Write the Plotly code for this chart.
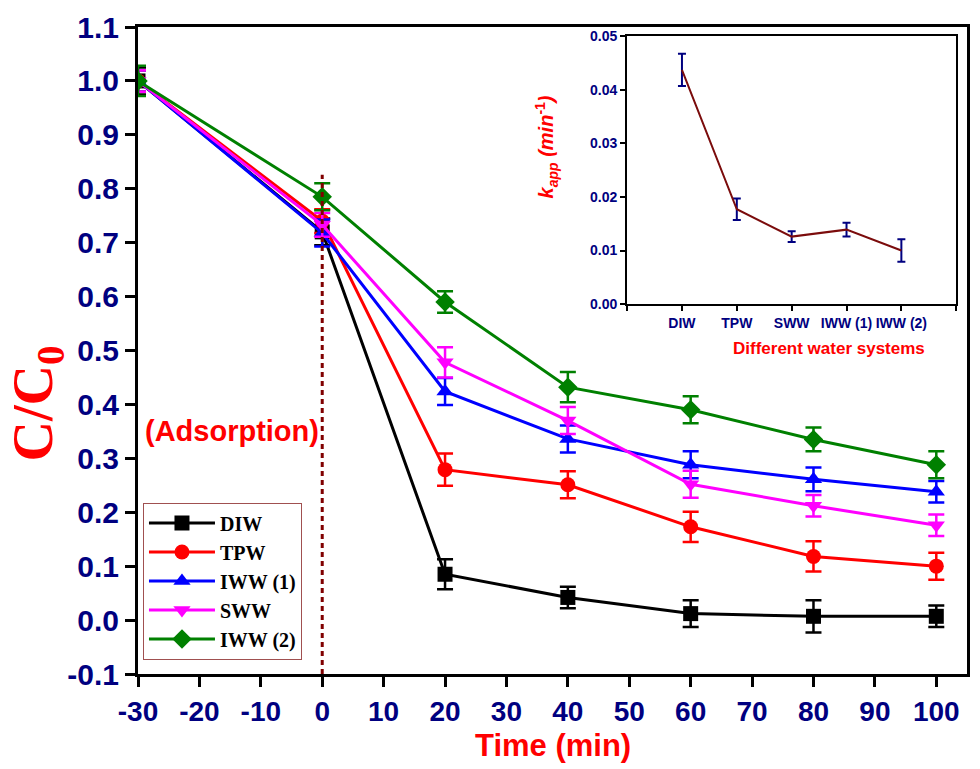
import plotly.graph_objects as go

# Irradiation time (min); -30 to 0 is the dark adsorption stage
time_min = [-30, 0, 20, 40, 60, 80, 100]

series_names = ["DIW", "TPW", "IWW (1)", "SWW", "IWW (2)"]
ratio_diw = [1.00, 0.720, 0.085, 0.042, 0.012, 0.007, 0.007]
ratio_tpw = [1.00, 0.740, 0.279, 0.251, 0.173, 0.118, 0.100]
ratio_iww1 = [1.00, 0.718, 0.424, 0.336, 0.288, 0.261, 0.238]
ratio_sww = [1.00, 0.733, 0.478, 0.370, 0.252, 0.212, 0.176]
ratio_iww2 = [1.00, 0.785, 0.590, 0.432, 0.390, 0.335, 0.288]

err_diw = [0.025, 0.025, 0.028, 0.020, 0.025, 0.030, 0.020]
err_tpw = [0.020, 0.022, 0.030, 0.025, 0.028, 0.028, 0.025]
err_iww1 = [0.020, 0.025, 0.025, 0.025, 0.025, 0.022, 0.020]
err_sww = [0.020, 0.022, 0.028, 0.025, 0.025, 0.020, 0.020]
err_iww2 = [0.028, 0.025, 0.020, 0.028, 0.025, 0.022, 0.025]

# Apparent rate constants for each water matrix (inset)
water_systems = ["DIW", "TPW", "SWW", "IWW (1)", "IWW (2)"]
k_app = [0.0437, 0.0177, 0.0126, 0.0139, 0.0100]
k_app_err = [0.0030, 0.0020, 0.0010, 0.0013, 0.0021]

main_ticks_y = [-0.1, 0.0, 0.1, 0.2, 0.3, 0.4, 0.5, 0.6, 0.7, 0.8, 0.9, 1.0, 1.1]
main_ticks_x = [-30, -20, -10, 0, 10, 20, 30, 40, 50, 60, 70, 80, 90, 100]
inset_ticks_y = [0.00, 0.01, 0.02, 0.03, 0.04, 0.05]

NAVY = "#000080"
series_values = [ratio_diw, ratio_tpw, ratio_iww1, ratio_sww, ratio_iww2]
series_errors = [err_diw, err_tpw, err_iww1, err_sww, err_iww2]
series_colors = ["#000000", "#ff0000", "#0000ff", "#ff00ff", "#008000"]
series_symbols = ["square", "circle", "triangle-up", "triangle-down", "diamond"]

fig = go.Figure()

for name, vals, errs, col, sym in zip(series_names, series_values, series_errors,
                                      series_colors, series_symbols):
    fig.add_trace(go.Scatter(
        x=time_min, y=vals, name=name, mode="lines+markers",
        line=dict(color=col, width=3),
        marker=dict(symbol=sym, size=15, color=col),
        error_y=dict(type="data", array=errs, visible=True, color=col,
                     thickness=2.5, width=8),
        xaxis="x", yaxis="y",
    ))

# Inset: k_app versus water system
fig.add_trace(go.Scatter(
    x=[1, 2, 3, 4, 5], y=k_app, mode="lines", showlegend=False,
    line=dict(color="#7b0c0c", width=2),
    error_y=dict(type="data", array=k_app_err, visible=True, color=NAVY,
                 thickness=2, width=4),
    xaxis="x2", yaxis="y2",
))

# End of the adsorption stage
fig.add_shape(type="line", x0=0, x1=0, y0=-0.1, y1=0.826, xref="x", yref="y",
              line=dict(color="#800000", width=3, dash="5px,4px"), layer="above")

fig.add_annotation(x=-14.7, y=0.35, xref="x", yref="y", text="(Adsorption)",
                   showarrow=False,
                   font=dict(family="Liberation Sans", size=29, color="#ff0000",
                             weight="bold"))

fig.add_annotation(x=-0.122, y=0.418, xref="paper", yref="paper", showarrow=False,
                   xanchor="center", yanchor="middle", textangle=-90,
                   text="C/C<sub>0</sub>",
                   font=dict(family="Liberation Serif", size=56, color="#ff0000",
                             weight="bold"))

fig.add_annotation(x=0.5, y=-0.111, xref="paper", yref="paper", showarrow=False,
                   xanchor="center", yanchor="middle", text="Time (min)",
                   font=dict(family="Liberation Sans", size=31, color="#ff0000",
                             weight="bold"))

fig.add_annotation(x=0.493, y=0.815, xref="paper", yref="paper", showarrow=False,
                   xanchor="center", yanchor="middle", textangle=-90,
                   text="<i>k</i><sub><i>app</i></sub><i> (min</i><sup>-1</sup><i>)</i>",
                   font=dict(family="Liberation Sans", size=20, color="#ff0000",
                             weight="bold"))

fig.add_annotation(x=0.833, y=0.503, xref="paper", yref="paper", showarrow=False,
                   xanchor="center", yanchor="middle", text="Different water systems",
                   font=dict(family="Liberation Sans", size=17, color="#ff0000",
                             weight="bold"))

x_tick_font = dict(family="Liberation Sans", size=28, color=NAVY, weight="bold")
y_tick_font = dict(family="Liberation Sans", size=30, color=NAVY, weight="bold")
inset_font = dict(family="Liberation Sans", size=14, color=NAVY, weight="bold")

fig.update_layout(
    width=980, height=769,
    margin=dict(l=138, r=10, t=25, b=95),
    paper_bgcolor="white", plot_bgcolor="white",
    xaxis=dict(range=[-30, 105], tickvals=main_ticks_x,
               ticktext=[str(v) for v in main_ticks_x], ticks="outside",
               ticklen=10, tickwidth=3, tickcolor="black",
               showline=True, linecolor="black", linewidth=3, mirror=True,
               showgrid=False, zeroline=False, tickfont=x_tick_font,
               domain=[0, 1]),
    yaxis=dict(range=[-0.1, 1.1], tickvals=main_ticks_y,
               ticktext=[f"{v:.1f}" for v in main_ticks_y],
               ticks="outside", ticklen=10, tickwidth=3, tickcolor="black",
               showline=True, linecolor="black", linewidth=3, mirror=True,
               showgrid=False, zeroline=False, tickfont=y_tick_font,
               domain=[0, 1]),
    xaxis2=dict(range=[0, 6], tickvals=[0, 1, 2, 3, 4, 5, 6],
                ticktext=[""] + water_systems + [""], tickangle=0,
                ticks="outside", ticklen=5, tickwidth=2, tickcolor="black",
                showline=True, linecolor="black", linewidth=2, mirror=True,
                showgrid=False, zeroline=False, tickfont=inset_font,
                domain=[0.590, 0.987], anchor="y2"),
    yaxis2=dict(range=[0, 0.05], tickvals=inset_ticks_y,
                ticktext=[f"{v:.2f}" for v in inset_ticks_y],
                ticks="outside", ticklen=5, tickwidth=2, tickcolor="black",
                showline=True, linecolor="black", linewidth=2, mirror=True,
                showgrid=False, zeroline=False, tickfont=inset_font,
                domain=[0.5716, 0.986], anchor="x2"),
    legend=dict(x=0.006, y=0.265, xanchor="left", yanchor="top",
                bgcolor="white", bordercolor="#a05050", borderwidth=1,
                font=dict(family="Liberation Serif", size=20, color="black",
                          weight="bold"),
                tracegroupgap=0, itemwidth=66),
    showlegend=True,
)

fig.write_html("out.html")
